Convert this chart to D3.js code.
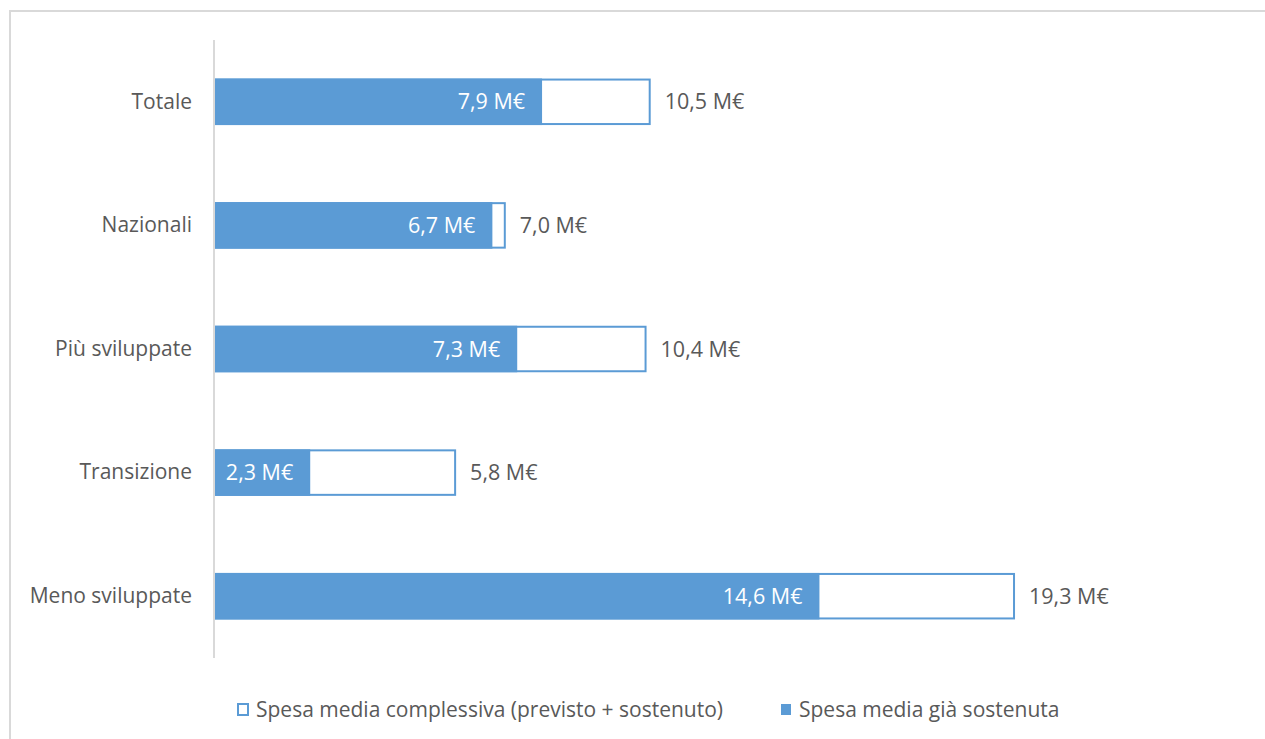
<!DOCTYPE html>
<html>
<head>
<meta charset="utf-8">
<script src="https://cdn.jsdelivr.net/npm/d3@7"></script>
<style>
  html, body { margin: 0; padding: 0; background: #ffffff; }
  svg { display: block; }
</style>
</head>
<body>
<svg id="chart" width="1265" height="739"></svg>
<script>
// Categorie e valori (milioni di euro)
const categories = ["Totale", "Nazionali", "Più sviluppate", "Transizione", "Meno sviluppate"];
const spesaComplessiva = [10.5, 7.0, 10.4, 5.8, 19.3];
const spesaSostenuta = [7.9, 6.7, 7.3, 2.3, 14.6];
const legendLabels = ["Spesa media complessiva (previsto + sostenuto)", "Spesa media già sostenuta"];

const blue = "#5B9BD5";
const textGray = "#595959";
const font = "'Open Sans', sans-serif";
const fmt = v => d3.format(".1f")(v).replace(".", ",") + " M€";

const svg = d3.select("#chart");

// cornice dell'area grafico
svg.append("rect")
  .attr("x", 10).attr("y", 11)
  .attr("width", 1270).attr("height", 740)
  .attr("fill", "#ffffff")
  .attr("stroke", "#d9d9d9")
  .attr("stroke-width", 2);

const x0 = 215;
const x = d3.scaleLinear().domain([0, 20]).range([x0, x0 + 20 * 41.4]);
const y = d3.scaleBand().domain(categories).range([40, 658]).paddingInner(0.64).paddingOuter(0.32);

const rows = svg.append("g").selectAll("g")
  .data(categories)
  .join("g")
  .attr("transform", d => `translate(0,${y(d)})`);

// barra vuota: spesa complessiva
rows.append("rect")
  .attr("x", x(0))
  .attr("y", 0)
  .attr("width", (d, i) => x(spesaComplessiva[i]) - x(0))
  .attr("height", y.bandwidth())
  .attr("fill", "#ffffff")
  .attr("stroke", blue)
  .attr("stroke-width", 2);

// barra piena: spesa già sostenuta
rows.append("rect")
  .attr("x", x(0))
  .attr("y", -1)
  .attr("width", (d, i) => x(spesaSostenuta[i]) - x(0))
  .attr("height", y.bandwidth() + 2)
  .attr("fill", blue);

// etichette interne
rows.append("text")
  .attr("x", (d, i) => x(spesaSostenuta[i]) - 17)
  .attr("y", y.bandwidth() / 2)
  .attr("dy", "0.35em")
  .attr("text-anchor", "end")
  .attr("fill", "#ffffff")
  .style("font-family", font)
  .style("font-size", "21.5px")
  .text((d, i) => fmt(spesaSostenuta[i]));

// etichette esterne
rows.append("text")
  .attr("x", (d, i) => x(spesaComplessiva[i]) + 15)
  .attr("y", y.bandwidth() / 2)
  .attr("dy", "0.35em")
  .attr("fill", textGray)
  .style("font-family", font)
  .style("font-size", "21.5px")
  .text((d, i) => fmt(spesaComplessiva[i]));

// asse delle categorie
const yAxis = svg.append("g")
  .attr("transform", `translate(${x0 - 1},0)`)
  .call(d3.axisLeft(y).tickSize(0).tickPadding(22));
yAxis.select(".domain").attr("stroke", "#d9d9d9").attr("stroke-width", 2)
  .attr("d", "M0,40V658");
yAxis.selectAll("text")
  .attr("fill", textGray)
  .style("font-family", font)
  .style("font-size", "21px");

// legenda
const legend = svg.append("g").attr("transform", "translate(0,710)");
const items = [
  { x: 238, label: legendLabels[0], hollow: true },
  { x: 781, label: legendLabels[1], hollow: false }
];
items.forEach(it => {
  legend.append("rect")
    .attr("x", it.x).attr("y", -6)
    .attr("width", 10).attr("height", 11)
    .attr("fill", it.hollow ? "#ffffff" : blue)
    .attr("stroke", blue)
    .attr("stroke-width", it.hollow ? 2 : 0);
  legend.append("text")
    .attr("x", it.x + 18)
    .attr("y", 0)
    .attr("dy", "0.35em")
    .attr("fill", textGray)
    .style("font-family", font)
    .style("font-size", "21px")
    .text(it.label);
});
</script>
</body>
</html>
